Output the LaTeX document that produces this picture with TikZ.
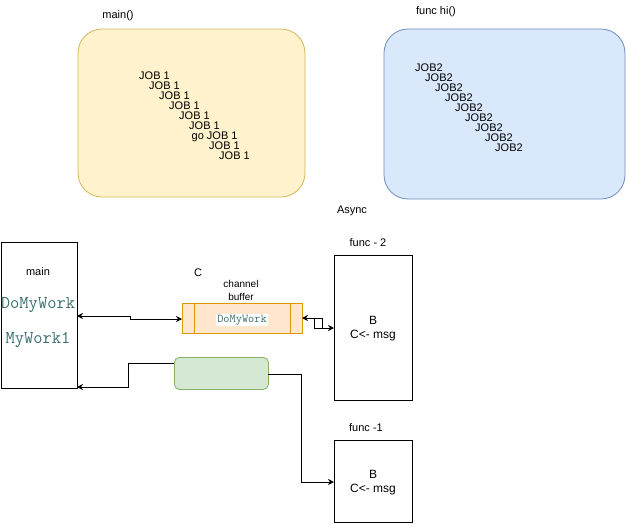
\documentclass[tikz,border=0pt]{standalone}
\usepackage{fontspec}
\setmainfont{Liberation Sans}
\setmonofont{Latin Modern Mono}
\newfontfamily\libmono{Liberation Mono}
\usetikzlibrary{arrows.meta}
\definecolor{yfill}{HTML}{FFF2CC}
\definecolor{ydraw}{HTML}{D6B656}
\definecolor{bfill}{HTML}{DAE8FC}
\definecolor{bdraw}{HTML}{6C8EBF}
\definecolor{gfill}{HTML}{D5E8D4}
\definecolor{gdraw}{HTML}{82B366}
\definecolor{ofill}{HTML}{FFE6CC}
\definecolor{odraw}{HTML}{D79B00}
\definecolor{codeteal}{HTML}{3A7070}
\tikzset{
  lbl/.style={font=\fontsize{11}{12}\selectfont, inner sep=0pt},
  job/.style={font=\fontsize{11}{12}\selectfont, inner sep=0pt, anchor=west, text height=7.5pt, text depth=0pt},
  plainbox/.style={draw=black, fill=white, line width=0.8pt},
  conn/.style={draw=black, line width=0.8pt},
  arr/.style={-{Stealth[length=6pt,width=6pt]}},
  darr/.style={{Stealth[length=6pt,width=6pt]}-{Stealth[length=6pt,width=6pt]}},
  code/.style={font=\ttfamily\fontsize{18}{20}\selectfont, text=codeteal, inner sep=0pt},
}
\begin{document}
\begin{tikzpicture}[x=1pt,y=-1pt]
\useasboundingbox (0,0) rectangle (626,523);
% top boxes
\node[lbl] (mainlbl) at (118,16) {main()};
\draw[fill=yfill, draw=ydraw, line width=0.8pt, rounded corners=24pt] (78,29) rectangle (305,197);
\node[job] (j1) at (139,76) {JOB 1};
\node[job] (j2) at (149,86) {JOB 1};
\node[job] (j3) at (159,96) {JOB 1};
\node[job] (j4) at (169,106) {JOB 1};
\node[job] (j5) at (179,116) {JOB 1};
\node[job] (j6) at (189,126) {JOB 1};
\node[job] (j7) at (191.5,136) {go JOB 1};
\node[job] (j8) at (209,146) {JOB 1};
\node[job] (j9) at (219,156) {JOB 1};

\node[lbl] (hilbl) at (436,12) {func hi()};
\draw[fill=bfill, draw=bdraw, line width=0.8pt, rounded corners=24pt] (384,29) rectangle (625,199);
\node[job] (k1) at (415,68) {JOB2};
\node[job] (k2) at (425,78) {JOB2};
\node[job] (k3) at (435,88) {JOB2};
\node[job] (k4) at (445,98) {JOB2};
\node[job] (k5) at (455,108) {JOB2};
\node[job] (k6) at (465,118) {JOB2};
\node[job] (k7) at (475,128) {JOB2};
\node[job] (k8) at (485,138) {JOB2};
\node[job] (k9) at (495,148) {JOB2};

\node[lbl] (async) at (352,211) {Async};

% main box
\node[plainbox, minimum width=76pt, minimum height=146pt, inner sep=0pt, anchor=north west] (mainbox) at (1,242) {};
\node[lbl] (maintxt) at (38,272) {main};
\node[code] (dmw) at (38,305) {DoMyWork};
\node[code] (mw1) at (38,340) {MyWork1};

% channel buffer
\node[lbl] (clbl) at (198,273) {C};
\node[lbl, align=center, font=\fontsize{10}{13}\selectfont] (chb) at (241,290) {channel\\buffer};
\node[draw=odraw, fill=ofill, line width=0.8pt, minimum width=120pt, minimum height=30pt, inner sep=0pt, anchor=north west] (buf) at (182,303) {};
\draw[draw=odraw, line width=0.8pt] (194,303) -- (194,333) (290,303) -- (290,333);
\node[fill=white, inner sep=1pt, font=\ttfamily\bfseries\fontsize{12}{13}\selectfont, text=codeteal] (buftxt) at (242,320) {DoMyWork};

% func boxes
\node[lbl] (f2lbl) at (368,243) {func - 2};
\node[plainbox, minimum width=78pt, minimum height=145pt, inner sep=0pt, anchor=north west] (f2) at (334,255) {};
\node[lbl, align=center, font=\fontsize{12}{14}\selectfont] (f2txt) at (373,329) {B\\C<- msg};

\node[lbl] (f1lbl) at (366,428) {func -1};
\node[plainbox, minimum width=78pt, minimum height=82pt, inner sep=0pt, anchor=north west] (f1) at (334,440) {};
\node[lbl, align=center, font=\fontsize{12}{14}\selectfont] (f1txt) at (373,483) {B\\C<- msg};

% green box
\node[draw=gdraw, fill=gfill, line width=0.8pt, rounded corners=5pt, minimum width=94pt, minimum height=32pt, inner sep=0pt, anchor=north west] (green) at (174,357) {};

% connectors
\coordinate (m1) at (77,316);
\coordinate (b1) at (182,319);
\draw[conn, darr] (m1) -- (130,316) -- (130,319) -- (b1);

\coordinate (b2) at (302,318);
\coordinate (f2in) at (334,328);
\draw[conn, darr] (b2) -- (322,318) -- (322,328) -- (f2in);
\draw[conn] (314,318) rectangle (322,328);

\coordinate (g1) at (174,363);
\coordinate (m2) at (77,387);
\draw[conn, arr] (g1) -- (128,363) -- (128,387) -- (m2);

\coordinate (g2) at (268,374);
\coordinate (f1in) at (334,482);
\draw[conn, arr] (g2) -- (301,374) -- (301,482) -- (f1in);
\end{tikzpicture}
\end{document}
